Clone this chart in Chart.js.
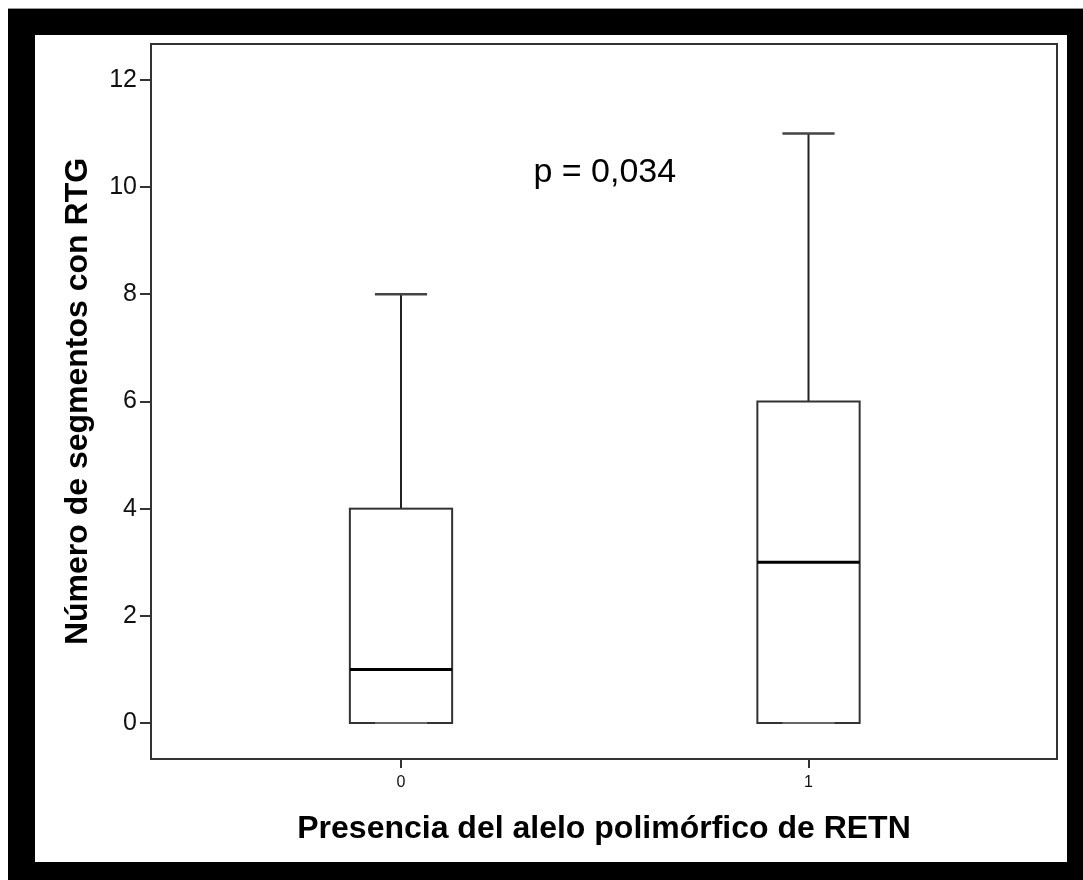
<!DOCTYPE html>
<html>
<head>
<meta charset="utf-8">
<title>Número de segmentos con RTG</title>
<script src="https://cdn.jsdelivr.net/npm/chart.js@4.4.1/dist/chart.umd.min.js"></script>
<style>
    html, body { margin: 0; padding: 0; background: #fff; }
    #frame {
        position: absolute; left: 8px; top: 8px; width: 1075px; height: 872px;
        background: #000; border-top: 1px solid #999; box-sizing: border-box;
    }
    #inner {
        position: absolute; left: 35px; top: 35px; width: 1032px; height: 827px;
        background: #fff;
    }
    #boxChart { position: absolute; left: 0; top: 0; }
</style>
</head>
<body>
<div id="frame"></div>
<div id="inner"></div>
<canvas id="boxChart" width="1083" height="880"></canvas>

<script>
// values
var groups = ['0', '1'];
var groupX = [0, 1];
var whiskerLow = [0, 0];
var q1 = [0, 0];
var medians = [1, 3];
var q3 = [4, 6];
var whiskerHigh = [8, 11];
var yTicks = [0, 2, 4, 6, 8, 10, 12];
var pLabel = 'p = 0,034';

var FONT = "'Liberation Sans', Arial, sans-serif";
var LINE = '#333';

// draws boxes, whiskers and the frame from the chart scales
var boxPlotPlugin = {
    id: 'boxPlot',
    afterDatasetsDraw: function(chart) {
        var ctx = chart.ctx;
        var xs = chart.scales.x;
        var ys = chart.scales.y;
        var area = chart.chartArea;
        var boxHalf = 0.1255;
        var capHalf = 0.064;

        ctx.save();
        ctx.lineCap = 'butt';

        for (var i = 0; i < groups.length; i++) {
            var cx = xs.getPixelForValue(groupX[i]);
            var bl = xs.getPixelForValue(groupX[i] - boxHalf);
            var br = xs.getPixelForValue(groupX[i] + boxHalf);
            var cl = xs.getPixelForValue(groupX[i] - capHalf);
            var cr = xs.getPixelForValue(groupX[i] + capHalf);
            var yLow = ys.getPixelForValue(whiskerLow[i]);
            var yQ1 = ys.getPixelForValue(q1[i]);
            var yMed = ys.getPixelForValue(medians[i]);
            var yQ3 = ys.getPixelForValue(q3[i]);
            var yHigh = ys.getPixelForValue(whiskerHigh[i]);

            // whiskers
            ctx.strokeStyle = '#222';
            ctx.lineWidth = 2;
            ctx.beginPath();
            ctx.moveTo(cx, yQ3); ctx.lineTo(cx, yHigh);
            ctx.moveTo(cx, yQ1); ctx.lineTo(cx, yLow);
            ctx.stroke();
            ctx.strokeStyle = '#444';
            ctx.lineWidth = 2.5;
            ctx.beginPath();
            ctx.moveTo(cl, yHigh); ctx.lineTo(cr, yHigh);
            ctx.stroke();

            // box
            ctx.fillStyle = '#fff';
            ctx.fillRect(bl, yQ3, br - bl, yQ1 - yQ3);
            ctx.strokeStyle = LINE;
            ctx.lineWidth = 2;
            ctx.strokeRect(bl, yQ3, br - bl, yQ1 - yQ3);

            // lower cap sits on the box bottom
            ctx.strokeStyle = '#666';
            ctx.beginPath();
            ctx.moveTo(cl, yLow); ctx.lineTo(cr, yLow);
            ctx.stroke();

            // median
            ctx.strokeStyle = '#000';
            ctx.lineWidth = 3;
            ctx.beginPath();
            ctx.moveTo(bl, yMed); ctx.lineTo(br, yMed);
            ctx.stroke();
        }

        // plot frame
        ctx.strokeStyle = LINE;
        ctx.lineWidth = 2;
        ctx.strokeRect(area.left, area.top, area.right - area.left, area.bottom - area.top);

        // p value annotation
        ctx.fillStyle = '#000';
        ctx.font = '34px ' + FONT;
        ctx.textAlign = 'center';
        ctx.textBaseline = 'middle';
        ctx.fillText(pLabel, xs.getPixelForValue(0.5), ys.getPixelForValue(10.27));
        ctx.restore();
    }
};

function initBoxChart() {
    var canvas = document.getElementById('boxChart');
    if (!canvas) return;

    if (typeof Chart === 'undefined') {
        console.error('Chart.js library is not loaded.');
        return;
    }

    var points = groupX.map(function(x, i) { return { x: x, y: medians[i] }; });

    new Chart(canvas.getContext('2d'), {
        type: 'scatter',
        data: {
            datasets: [{
                label: 'Mediana',
                data: points,
                pointRadius: 0,
                pointHoverRadius: 0
            }]
        },
        options: {
            responsive: false,
            animation: false,
            layout: { padding: { left: 0, top: 44, right: 26, bottom: 0 } },
            plugins: {
                legend: { display: false },
                tooltip: { enabled: false }
            },
            scales: {
                x: {
                    type: 'linear',
                    min: -0.6135,
                    max: 1.6098,
                    afterFit: function(scale) { scale.height = 121; },
                    afterBuildTicks: function(scale) {
                        scale.ticks = groupX.map(function(v) { return { value: v }; });
                    },
                    ticks: {
                        color: '#111',
                        font: { family: FONT, size: 16 },
                        padding: 5,
                        callback: function(value) {
                            var idx = groupX.indexOf(value);
                            return idx >= 0 ? groups[idx] : '';
                        }
                    },
                    grid: {
                        drawOnChartArea: false,
                        tickLength: 9,
                        color: LINE,
                        lineWidth: 2
                    },
                    border: { display: false },
                    title: {
                        display: true,
                        text: 'Presencia del alelo polimórfico de RETN',
                        color: '#000',
                        font: { family: FONT, size: 32, weight: 'bold' },
                        padding: { top: 0, bottom: 32 }
                    }
                },
                y: {
                    min: -0.672,
                    max: 12.672,
                    afterFit: function(scale) { scale.width = 151; },
                    afterBuildTicks: function(scale) {
                        scale.ticks = yTicks.map(function(v) { return { value: v }; });
                    },
                    ticks: {
                        color: '#111',
                        font: { family: FONT, size: 25 },
                        padding: 3
                    },
                    grid: {
                        drawOnChartArea: false,
                        tickLength: 11,
                        color: LINE,
                        lineWidth: 2
                    },
                    border: { display: false },
                    title: {
                        display: true,
                        text: 'Número de segmentos con RTG',
                        color: '#000',
                        font: { family: FONT, size: 32, weight: 'bold' },
                        padding: { top: 59, bottom: 0 }
                    }
                }
            }
        },
        plugins: [boxPlotPlugin]
    });
}

initBoxChart();
</script>
</body>
</html>
